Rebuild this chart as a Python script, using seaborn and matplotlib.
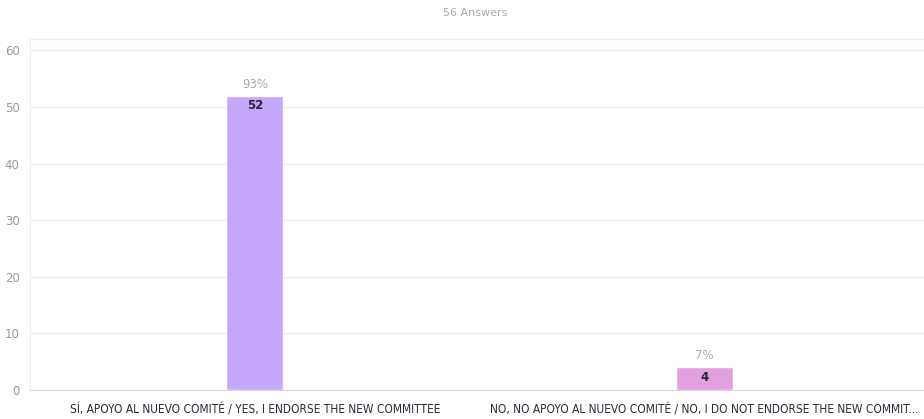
import numpy as np
import pandas as pd
import seaborn as sns
import matplotlib
matplotlib.use("Agg")
import matplotlib.pyplot as plt

categories = ['SÍ, APOYO AL NUEVO COMITÉ / YES, I ENDORSE THE NEW COMMITTEE',
              'NO, NO APOYO AL NUEVO COMITÉ / NO, I DO NOT ENDORSE THE NEW COMMIT...']
counts = [52, 4]
percents = ['93%', '7%']
bar_colors = ['#c5a8fd', '#e3a0e1']
total_answers = 56

sns.set_style('white')
plt.rcParams['font.family'] = ['DejaVu Sans']

df = pd.DataFrame({'answer': categories, 'count': counts})

fig = plt.figure(figsize=(9.24, 4.19), dpi=100)
ax = fig.add_axes([0.0325, 0.069, 0.973, 0.838])

sns.barplot(data=df, x='answer', y='count', hue='answer', palette=bar_colors,
            saturation=1, width=0.127, legend=False, ax=ax, zorder=3)

ax.set_ylim(0, 62)
ax.set_xlim(-0.5, 1.5)
ax.set_yticks([0, 10, 20, 30, 40, 50, 60])
ax.grid(axis='y', color='#ebe9f3', linewidth=1, zorder=0)
ax.set_xlabel('')
ax.set_ylabel('')
for s in ['top', 'left', 'right']:
    ax.spines[s].set_color('#eeecf4')
ax.spines['bottom'].set_color('#d8d6e0')
ax.tick_params(axis='y', colors='#d8d6e0', labelcolor='#9a98a6', labelsize=8.5, length=4, width=0.8)
ax.tick_params(axis='x', colors='#d8d6e0', labelcolor='#2e2c38', labelsize=8.6, length=5, width=0.8, pad=5)
for lbl in ax.get_xticklabels():
    lbl.set_fontstretch('condensed')
ax.get_xticklabels()[1].set_x(0.99)
ax.get_xticklabels()[1].set_horizontalalignment('center')

for i, (c, p) in enumerate(zip(counts, percents)):
    ax.text(i, c + 0.9, p, ha='center', va='bottom', fontsize=8.5, color='#a9a7b5')
    ax.text(i, c - 0.6, str(c), ha='center', va='top', fontsize=8.5, color='#2a2535', fontweight='bold')

fig.text(0.514, 0.968, f'{total_answers} Answers', ha='center', va='center', fontsize=8, color='#a9a7b5')

fig.savefig('out.png', dpi=100)
